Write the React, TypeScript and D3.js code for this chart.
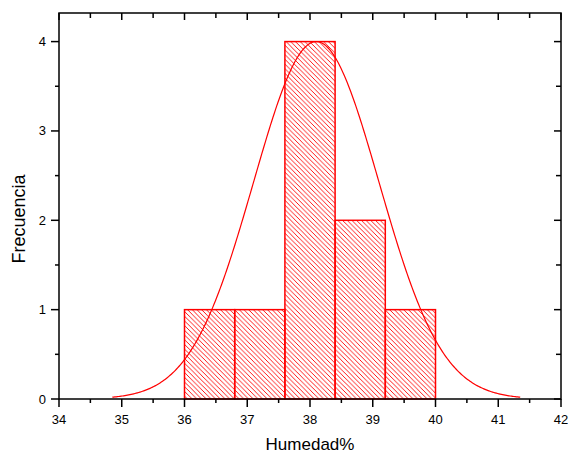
import React from "react";
import * as d3 from "d3";

const binStarts = [36, 36.8, 37.6, 38.4, 39.2];
const binWidth = 0.8;
const counts = [1, 1, 4, 2, 1];
const xTicks = [34, 35, 36, 37, 38, 39, 40, 41, 42];
const yTicks = [0, 1, 2, 3, 4];
const fitMean = 38.1;
const fitSd = 1.0;
const fitPeak = 4.0;
const fitRange = [34.85, 41.35];

const W = 568, H = 454;
const M = { left: 59, right: 7, top: 13, bottom: 55 };

export default function App() {
  const x = d3.scaleLinear().domain([34, 42]).range([M.left, W - M.right]);
  const y = d3.scaleLinear().domain([0, 4.32]).range([H - M.bottom, M.top]);
  const x0 = x.range()[0], x1 = x.range()[1];
  const y0 = y.range()[0], y1 = y.range()[1];

  const xs = d3.range(fitRange[0], fitRange[1] + 0.001, 0.02);
  const line = d3
    .line<number>()
    .x((d) => x(d))
    .y((d) => y(fitPeak * Math.exp(-((d - fitMean) ** 2) / (2 * fitSd * fitSd))));

  const xMinor = d3.range(34.5, 42, 1);
  const yMinor = [0.5, 1.5, 2.5, 3.5];
  const red = "#ff0000";
  const font = "'Liberation Sans', Arial, sans-serif";

  return (
    <svg width={W} height={H} style={{ position: "absolute", left: 0, top: 0 }}>
      <defs>
        <pattern id="hatch" patternUnits="userSpaceOnUse" width={4.7} height={4.7}>
          <path d="M-1,-1 L5.7,5.7 M-1,3.7 L1,5.7 M3.7,-1 L5.7,1" stroke={red} strokeWidth={0.9} />
        </pattern>
      </defs>
      <rect width={W} height={H} fill="white" />
      {binStarts.map((b, i) => (
        <rect
          key={i}
          x={x(b)}
          y={y(counts[i])}
          width={x(b + binWidth) - x(b)}
          height={y(0) - y(counts[i])}
          fill="url(#hatch)"
          stroke={red}
          strokeWidth={1.5}
        />
      ))}
      <path d={line(xs) || ""} fill="none" stroke={red} strokeWidth={1.2} />
      <rect x={x0} y={y1} width={x1 - x0} height={y0 - y1} fill="none" stroke="black" strokeWidth={1.5} />
      {xTicks.map((t) => (
        <g key={"xt" + t}>
          <line x1={x(t)} x2={x(t)} y1={y0} y2={y0 + 8} stroke="black" strokeWidth={1.5} />
          <line x1={x(t)} x2={x(t)} y1={y1} y2={y1 + 7} stroke="black" strokeWidth={1.5} />
          <text x={x(t)} y={y0 + 25} textAnchor="middle" fontFamily={font} fontSize={13}>
            {t}
          </text>
        </g>
      ))}
      {xMinor.map((t) => (
        <g key={"xm" + t}>
          <line x1={x(t)} x2={x(t)} y1={y0} y2={y0 + 4} stroke="black" strokeWidth={1.5} />
          <line x1={x(t)} x2={x(t)} y1={y1} y2={y1 + 5} stroke="black" strokeWidth={1.5} />
        </g>
      ))}
      {yTicks.map((t) => (
        <g key={"yt" + t}>
          <line x1={x0 - 8} x2={x0} y1={y(t)} y2={y(t)} stroke="black" strokeWidth={1.5} />
          <line x1={x1 - 7} x2={x1} y1={y(t)} y2={y(t)} stroke="black" strokeWidth={1.5} />
          <text x={x0 - 13} y={y(t) + 4.5} textAnchor="end" fontFamily={font} fontSize={13}>
            {t}
          </text>
        </g>
      ))}
      {yMinor.map((t) => (
        <g key={"ym" + t}>
          <line x1={x0 - 4} x2={x0} y1={y(t)} y2={y(t)} stroke="black" strokeWidth={1.5} />
          <line x1={x1 - 5} x2={x1} y1={y(t)} y2={y(t)} stroke="black" strokeWidth={1.5} />
        </g>
      ))}
      <text x={310} y={450} textAnchor="middle" fontFamily={font} fontSize={17}>
        Humedad%
      </text>
      <text
        transform={`translate(24.5, 219) rotate(-90)`}
        textAnchor="middle"
        fontFamily={font}
        fontSize={18}
      >
        Frecuencia
      </text>
    </svg>
  );
}
